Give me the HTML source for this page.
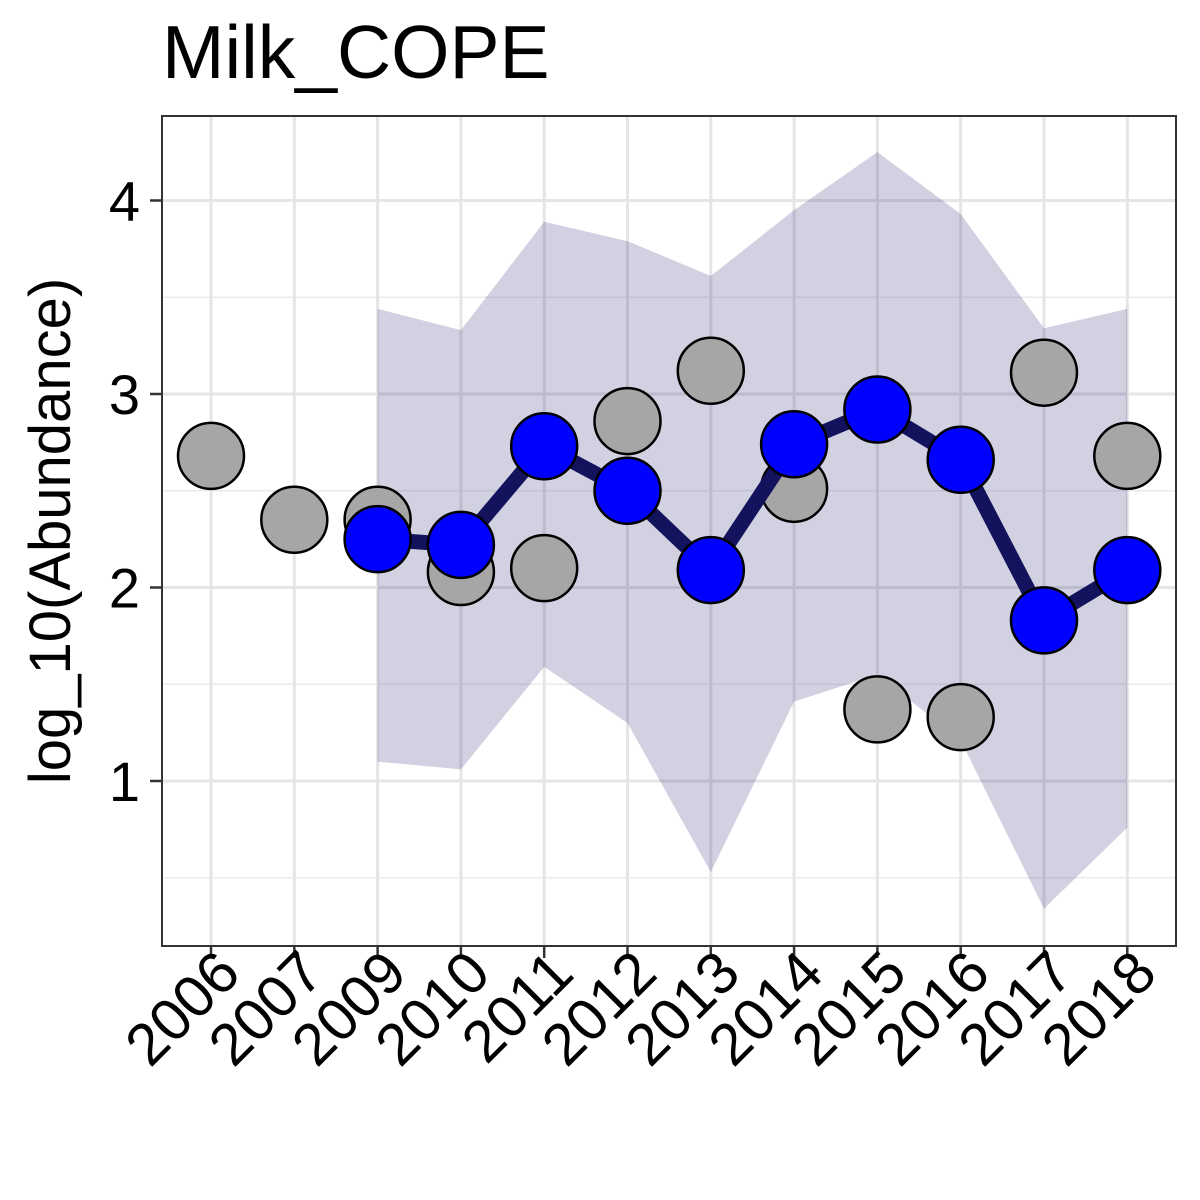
<!DOCTYPE html>
<html><head><meta charset="utf-8"><style>
body{margin:0;background:#fff;}
svg{display:block;font-family:"Liberation Sans",Arial,sans-serif;}
</style></head><body>
<svg id="chart" width="1200" height="1200">
<text x="162" y="78" font-size="75" fill="#000">Milk_COPE</text>
<text transform="translate(70,531) rotate(-90)" text-anchor="middle" font-size="58" fill="#000">log_10(Abundance)</text>
<g id="grid"></g><g id="ribbon"></g><g id="gray"></g><g id="line"></g><g id="blue"></g><g id="axes"></g>
</svg>
<script>
const categories=["2006","2007","2009","2010","2011","2012","2013","2014","2015","2016","2017","2018"];
const observed=[2.68,2.35,2.35,2.08,2.10,2.86,3.12,2.51,1.37,1.33,3.11,2.68];
const fitCats=["2009","2010","2011","2012","2013","2014","2015","2016","2017","2018"];
const fitted=[2.25,2.22,2.73,2.50,2.09,2.74,2.92,2.66,1.83,2.09];
const upper=[3.44,3.33,3.89,3.79,3.61,3.95,4.25,3.93,3.34,3.44];
const lower=[1.10,1.06,1.59,1.30,0.53,1.41,1.55,1.21,0.34,0.76];
const yTicks=[1,2,3,4];
const yMinor=[0.5,1.5,2.5,3.5];
const NS="http://www.w3.org/2000/svg";
const L=162,R=1176,T=116,B=946;
const xs=c=>211+categories.indexOf(c)*83.3;
const ys=v=>781-(v-1)*193.5;
function mk(tag,attrs,parent){const e=document.createElementNS(NS,tag);for(const k in attrs)e.setAttribute(k,attrs[k]);document.getElementById(parent).appendChild(e);return e;}
yMinor.forEach(v=>{const e=mk('line',{x1:L,x2:R,y1:ys(v),y2:ys(v),stroke:'#ebebeb','stroke-width':1.5},'grid');

});
yTicks.forEach(v=>{const e=mk('line',{x1:L,x2:R,y1:ys(v),y2:ys(v),stroke:'#e5e5e5','stroke-width':3},'grid');

});
categories.forEach(c=>{const e=mk('line',{x1:xs(c),x2:xs(c),y1:T,y2:B,stroke:'#e5e5e5','stroke-width':3},'grid');

});
let pts=fitCats.map((c,i)=>xs(c)+','+ys(upper[i]));
for(let i=fitCats.length-1;i>=0;i--)pts.push(xs(fitCats[i])+','+ys(lower[i]));
const rb=mk('polygon',{points:pts.join(' '),fill:'rgb(25,25,112)','fill-opacity':0.2},'ribbon');


categories.forEach((c,i)=>{const e=mk('circle',{cx:xs(c),cy:ys(observed[i]),r:33,fill:'#a6a6a6',stroke:'#000','stroke-width':2.5},'gray');

});
const pl=mk('polyline',{points:fitCats.map((c,i)=>xs(c)+','+ys(fitted[i])).join(' '),fill:'none',stroke:'#13125c','stroke-width':15,'stroke-linejoin':'round'},'line');


fitCats.forEach((c,i)=>{const e=mk('circle',{cx:xs(c),cy:ys(fitted[i]),r:33,fill:'#0000ff',stroke:'#000','stroke-width':2.5},'blue');

});
const fr=mk('rect',{x:L,y:T,width:R-L,height:B-T,fill:'none',stroke:'#333','stroke-width':2},'axes');


yTicks.forEach(v=>{const t=mk('line',{x1:L-12,x2:L,y1:ys(v),y2:ys(v),stroke:'#333','stroke-width':2.5},'axes');


const e=mk('text',{x:L-22,y:ys(v)+20,'text-anchor':'end','font-size':56,fill:'#000'},'axes');e.textContent=v;

});
categories.forEach(c=>{const t=mk('line',{x1:xs(c),x2:xs(c),y1:B,y2:B+12,stroke:'#333','stroke-width':2.5},'axes');


const e=mk('text',{transform:`translate(${xs(c)+32},${B+30}) rotate(-45)`,'text-anchor':'end','font-size':59,fill:'#000'},'axes');e.textContent=c;

});
</script>
</body></html>
